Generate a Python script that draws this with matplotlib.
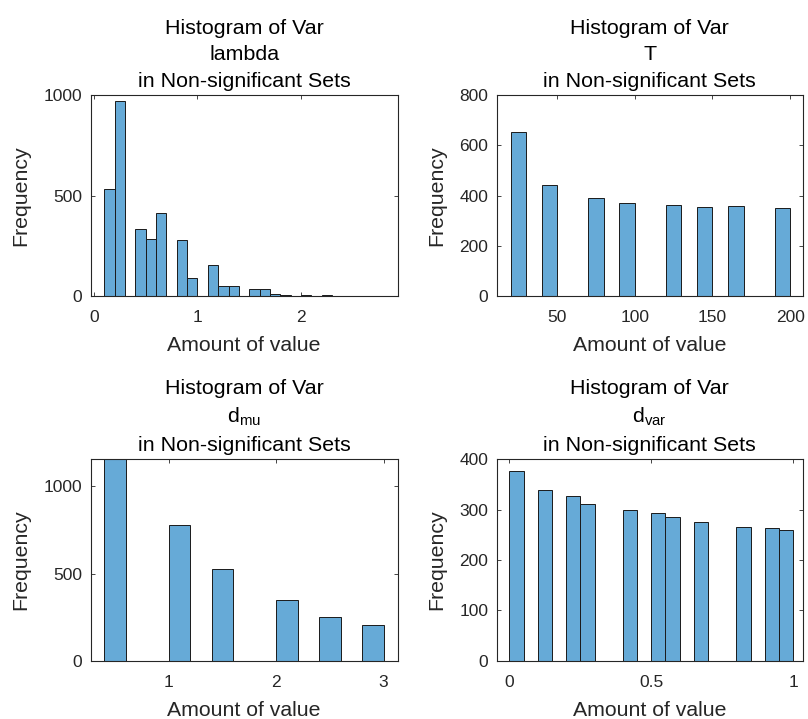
import numpy as np
import matplotlib.pyplot as plt

plt.rcParams["font.family"] = ["Liberation Sans", "DejaVu Sans"]
plt.rcParams["mathtext.fontset"] = "custom"
plt.rcParams["mathtext.rm"] = "Liberation Sans"

# ---- histogram counts per variable (bin edges + counts) ----
lambda_edges = np.round(np.arange(0.1, 2.81, 0.1), 2)
lambda_counts = [530, 970, 0, 332, 283, 415, 0, 278, 92, 0, 152, 48, 52, 0,
                 33, 33, 8, 7, 1, 3, 2, 3, 1, 2, 1, 1, 1]

T_edges = np.arange(20, 201, 10)
T_counts = [652, 0, 442, 0, 0, 391, 0, 371, 0, 0, 363, 0, 355, 0, 359, 0, 0, 349]

dmu_edges = np.round(np.arange(0.4, 3.01, 0.2), 2)
dmu_counts = [1155, 0, 0, 778, 0, 526, 0, 0, 350, 0, 249, 0, 205]

dvar_edges = np.round(np.arange(0.0, 1.001, 0.05), 2)
dvar_counts = [376, 0, 340, 0, 328, 311, 0, 0, 299, 0, 294, 286, 0, 276,
               0, 0, 266, 0, 263, 259]

FACE = "#66aad7"
AXC = "#262626"

W, H = 808, 719
fig = plt.figure(figsize=(W / 100, H / 100), dpi=100)


def add_axes(left, right, top, bottom):
    return fig.add_axes([left / W, 1 - bottom / H, (right - left) / W, (bottom - top) / H])


panels = [
    dict(box=(90.7, 397.5, 95, 296), edges=lambda_edges, counts=lambda_counts,
         name="lambda", xlim=(-0.03, 2.93), ylim=(0, 1000),
         xticks=[0, 1, 2], yticks=[0, 500, 1000]),
    dict(box=(496.7, 802.5, 95, 296), edges=T_edges, counts=T_counts,
         name="T", xlim=(11, 208), ylim=(0, 800),
         xticks=[50, 100, 150, 200], yticks=[0, 200, 400, 600, 800]),
    dict(box=(90.7, 397.5, 459.3, 660.7), edges=dmu_edges, counts=dmu_counts,
         name=r"$\mathregular{d_{mu}}$", xlim=(0.273, 3.13), ylim=(0, 1155),
         xticks=[1, 2, 3], yticks=[0, 500, 1000]),
    dict(box=(496.7, 802.5, 459.3, 660.7), edges=dvar_edges, counts=dvar_counts,
         name=r"$\mathregular{d_{var}}$", xlim=(-0.045, 1.033), ylim=(0, 400),
         xticks=[0, 0.5, 1], yticks=[0, 100, 200, 300, 400]),
]

for p in panels:
    ax = add_axes(*p["box"])
    edges = np.asarray(p["edges"], dtype=float)
    ax.bar(edges[:-1], p["counts"], width=np.diff(edges), align="edge",
           color=FACE, edgecolor="#1a1a1a", linewidth=0.7)
    ax.set_xlim(*p["xlim"])
    ax.set_ylim(*p["ylim"])
    ax.set_xticks(p["xticks"])
    ax.set_xticklabels([f"{t:g}" for t in p["xticks"]])
    ax.set_yticks(p["yticks"])
    ax.tick_params(direction="in", length=3, width=0.6, colors=AXC,
                   labelsize=12.5, top=True, right=True)
    ax.tick_params(axis="x", pad=10)
    ax.tick_params(axis="y", pad=6)
    for s in ax.spines.values():
        s.set_color(AXC)
        s.set_linewidth(0.8)
    ax.set_xlabel("Amount of value", fontsize=15.3, color=AXC, labelpad=8)
    ax.set_ylabel("Frequency", fontsize=15.3, color=AXC, labelpad=9.5)
    ax.set_title("Histogram of Var\n" + p["name"] + "\nin Non-significant Sets",
                 fontsize=15.4, color="black", pad=6, linespacing=1.5)

fig.savefig("out.png", dpi=100)
